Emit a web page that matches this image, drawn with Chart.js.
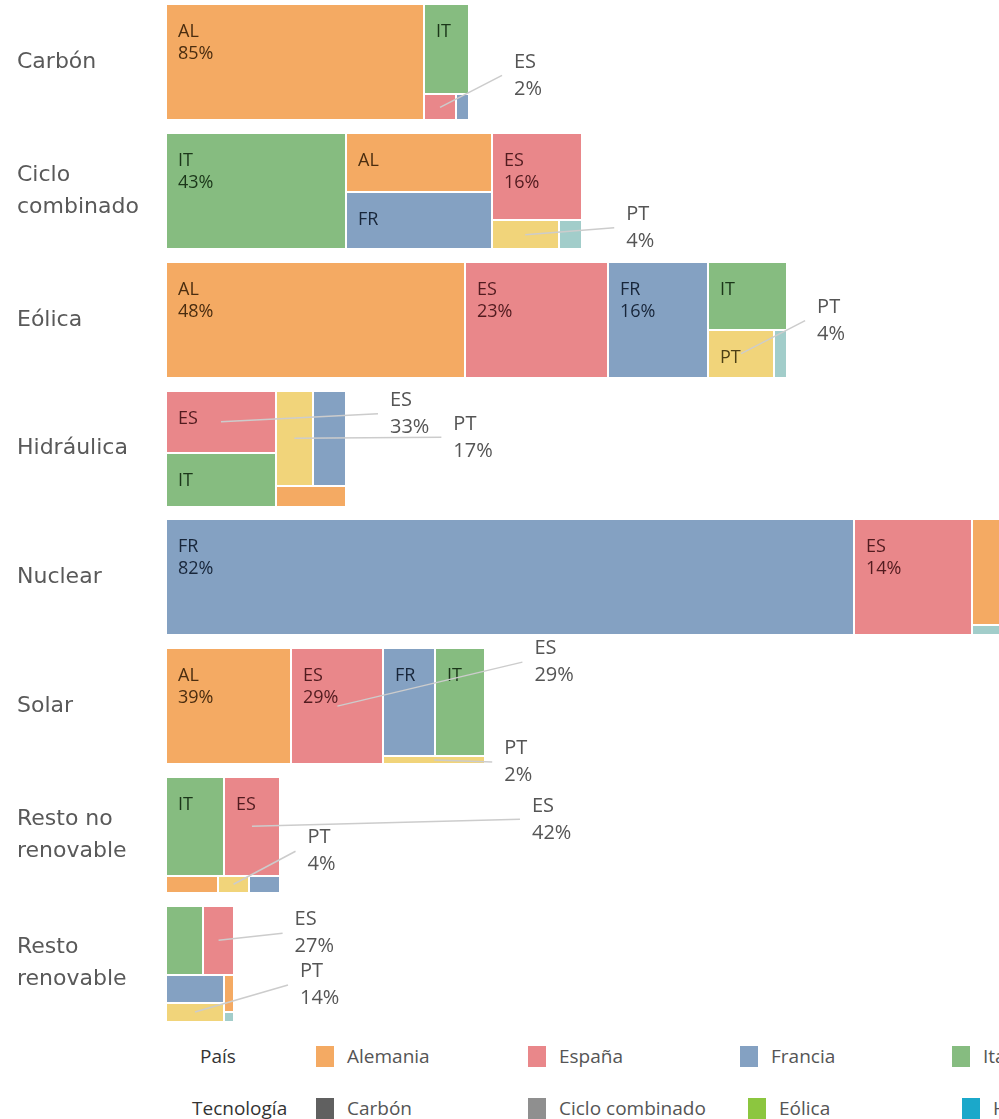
<!DOCTYPE html>
<html lang="es">
<head>
<meta charset="utf-8">
<title>Generación por tecnología y país</title>
<script src="https://cdn.jsdelivr.net/npm/chart.js@4.4.1/dist/chart.umd.min.js"></script>
<style>
  html, body { margin: 0; padding: 0; background: #fff; }
  body { position: relative; width: 999px; height: 1119px; overflow: hidden; font-family: "Open Sans", sans-serif; }
  #chart { position: absolute; left: 0; top: -2px; }
  .legend-title { position: absolute; font-size: 19px; color: #333; white-space: nowrap; transform: translateY(-50%); }
  .legend-item { position: absolute; display: flex; align-items: center; font-size: 19px; color: #555; white-space: nowrap; transform: translateY(-50%); }
  .legend-item i { display: inline-block; width: 18px; height: 21px; margin-right: 13px; }
</style>
</head>
<body>
<canvas id="chart" width="999" height="1032"></canvas>
<div id="legend"></div>
<script>
// Technologies (one treemap row each) and their axis labels
const technologies = ['Carbón', 'Ciclo combinado', 'Eólica', 'Hidráulica', 'Nuclear', 'Solar', 'Resto no renovable', 'Resto renovable'];
const techLabels = ['Carbón', ['Ciclo', 'combinado'], 'Eólica', 'Hidráulica', 'Nuclear', 'Solar', ['Resto no', 'renovable'], ['Resto', 'renovable']];

const countries = ['Alemania', 'España', 'Francia', 'Italia', 'Portugal', 'Reino Unido'];
const countryCodes = ['AL', 'ES', 'FR', 'IT', 'PT', 'RU'];

// Generation (TWh) per country, same order as technologies
const alemania   = [129.2, 37.2, 149.7,  6.2,  14.9, 62.7,  3.8,  1.63];
const espana     = [  3.5, 33.9,  71.4, 29.5,  59.1, 46.0, 23.9,  9.18];
const francia    = [  1.5, 35.8,  50.0, 13.7, 344.0, 23.8,  2.25, 6.97];
const italia     = [ 17.3, 89.9,  23.0, 25.5,   0,   23.5, 24.7, 11.05];
const portugal   = [  0,    8.3,  13.7, 15.1,   0,    3.5,  2.35, 4.76];
const reinoUnido = [  0,    2.9,   2.7,  0,     1.5,  0,    0,    0.41];

const generation = [alemania, espana, francia, italia, portugal, reinoUnido];
const totals = technologies.map((t, i) => generation.reduce((s, serie) => s + serie[i], 0));

const countryColours = ['#F4AA63', '#E9878A', '#84A1C2', '#86BC80', '#F1D47A', '#A2CDCA'];
const countryInk = ['#4a2d10', '#511b1f', '#18263a', '#1b3619', '#4d3f15', '#233f3d'];
const techColours = ['#606060', '#8f8f8f', '#8CC63F', '#1BA8CA', '#9467bd', '#f2c12e', '#b07aa1', '#7f7f7f'];

// Callouts for Spain and Portugal: technology, country, text offset from the cell centre
const callouts = [
  ['Carbón', 'España', 74, -32],
  ['Ciclo combinado', 'Portugal', 101, -7],
  ['Eólica', 'Portugal', 76, -33],
  ['Hidráulica', 'España', 169, -8],
  ['Hidráulica', 'Portugal', 159, -1],
  ['Solar', 'España', 197, -44],
  ['Solar', 'Portugal', 70, 2],
  ['Resto no renovable', 'España', 280, -7],
  ['Resto no renovable', 'Portugal', 74, -33],
  ['Resto renovable', 'España', 76, -7],
  ['Resto renovable', 'Portugal', 105, -27]
];

// squarified layout, tolerating cells up to this aspect ratio
const ratioTolerance = 3.2;

function worst(row, side) {
  const sum = row.reduce((s, d) => s + d.a, 0);
  const t = sum / side;
  let w = 0;
  row.forEach(d => {
    const len = d.a / t;
    w = Math.max(w, t / len, len / t);
  });
  return Math.max(ratioTolerance, w);
}

function squarify(items, box) {
  const out = [];
  let r = Object.assign({}, box);
  let rest = items.slice();
  while (rest.length) {
    const side = Math.min(r.w, r.h);
    const row = [rest[0]];
    let i = 1;
    while (i < rest.length && worst(row.concat(rest[i]), side) <= worst(row, side)) {
      row.push(rest[i]);
      i++;
    }
    rest = rest.slice(row.length);
    const sum = row.reduce((s, d) => s + d.a, 0);
    if (r.w >= r.h) {
      // strip down the left side
      const t = rest.length ? sum / r.h : r.w;
      let yy = r.y;
      row.forEach((d, k) => {
        const len = k === row.length - 1 ? r.y + r.h - yy : d.a / t;
        out.push(Object.assign({}, d, { x: r.x, y: yy, w: t, h: len }));
        yy += len;
      });
      r = { x: r.x + t, y: r.y, w: r.w - t, h: r.h };
    } else {
      // strip along the top
      const t = rest.length ? sum / r.w : r.h;
      let xx = r.x;
      row.forEach((d, k) => {
        const len = k === row.length - 1 ? r.x + r.w - xx : d.a / t;
        out.push(Object.assign({}, d, { x: xx, y: r.y, w: len, h: t }));
        xx += len;
      });
      r = { x: r.x, y: r.y + t, w: r.w, h: r.h - t };
    }
  }
  return out;
}

const treemapCells = {
  id: 'treemapCells',
  afterDatasetsDraw(chart) {
    const ctx = chart.ctx;
    const meta = chart.getDatasetMeta(0);
    const centres = {};
    ctx.save();
    meta.data.forEach((bar, t) => {
      const p = bar.getProps(['x', 'y', 'base', 'height'], true);
      const box = { x: p.base, y: p.y - p.height / 2, w: p.x - p.base, h: p.height };
      const area = box.w * box.h;
      const items = generation
        .map((serie, c) => ({ c: c, v: serie[t], a: serie[t] / totals[t] * area }))
        .filter(d => d.v > 0)
        .sort((a, b) => b.v - a.v);
      squarify(items, box).forEach(cell => {
        const x0 = Math.round(cell.x), x1 = Math.round(cell.x + cell.w);
        const y0 = Math.round(cell.y), y1 = Math.round(cell.y + cell.h);
        const w = x1 - x0, h = y1 - y0;
        ctx.fillStyle = countryColours[cell.c];
        ctx.fillRect(x0 + 1, y0 + 1, w - 2, h - 2);
        centres[technologies[t] + '|' + countries[cell.c]] = { x: cell.x + cell.w / 2, y: cell.y + cell.h / 2, v: cell.v, t: t, c: cell.c };

        ctx.font = '18px "Open Sans"';
        ctx.textBaseline = 'alphabetic';
        const code = countryCodes[cell.c];
        const pct = Math.round(cell.v / totals[t] * 100) + '%';
        if (w >= ctx.measureText(code).width + 28 && h >= 44) {
          ctx.fillStyle = countryInk[cell.c];
          ctx.fillText(code, x0 + 12, y0 + 33);
          if (w >= ctx.measureText(pct).width + 26 && h >= 75) {
            ctx.fillText(pct, x0 + 12, y0 + 55);
          }
        }
      });
    });

    // leader lines, then callout texts
    const placed = callouts.map(([tech, country, dx, dy]) => {
      const cen = centres[tech + '|' + country];
      return { cen: cen, x: cen.x + dx, y: cen.y + dy };
    });
    ctx.strokeStyle = '#cccccc';
    ctx.lineWidth = 1.5;
    placed.forEach(p => {
      ctx.beginPath();
      ctx.moveTo(p.cen.x, p.cen.y);
      ctx.lineTo(p.x - 12, p.y);
      ctx.stroke();
    });
    ctx.font = '20px "Open Sans"';
    ctx.textBaseline = 'middle';
    ctx.fillStyle = '#555';
    placed.forEach(p => {
      const pct = Math.round(p.cen.v / totals[p.cen.t] * 100) + '%';
      ctx.fillText(countryCodes[p.cen.c], p.x, p.y - 13.5);
      ctx.fillText(pct, p.x, p.y + 13.5);
    });
    ctx.restore();
  }
};

new Chart(document.getElementById('chart'), {
  type: 'bar',
  data: {
    labels: techLabels,
    datasets: [{
      data: totals,
      backgroundColor: 'rgba(0,0,0,0)',
      categoryPercentage: 1,
      barPercentage: 0.9
    }]
  },
  options: {
    indexAxis: 'y',
    responsive: false,
    animation: false,
    events: [],
    layout: { padding: { left: 17, top: 0, right: 0, bottom: 2 } },
    plugins: { legend: { display: false }, tooltip: { enabled: false } },
    scales: {
      x: { type: 'linear', min: 0, max: 416.5, display: false },
      y: {
        grid: { display: false },
        border: { display: false },
        ticks: {
          crossAlign: 'far',
          color: '#595959',
          font: { family: 'DejaVu Sans', size: 22, lineHeight: 1.45 }
        },
        afterFit(scale) {
          scale.width = 149;
          scale.paddingTop = 0;
          scale.paddingBottom = 0;
        }
      }
    }
  },
  plugins: [treemapCells]
});

// legend rows under the chart
const legend = document.getElementById('legend');
function legendRow(title, titleLeft, names, colours, lefts, centreY) {
  const head = document.createElement('div');
  head.className = 'legend-title';
  head.textContent = title;
  head.style.left = titleLeft + 'px';
  head.style.top = centreY + 'px';
  legend.appendChild(head);
  names.forEach((name, i) => {
    const item = document.createElement('div');
    item.className = 'legend-item';
    item.style.left = lefts[i] + 'px';
    item.style.top = centreY + 'px';
    const sw = document.createElement('i');
    sw.style.background = colours[i];
    item.appendChild(sw);
    item.appendChild(document.createTextNode(name));
    legend.appendChild(item);
  });
}
legendRow('País', 200, countries, countryColours, [316, 528, 740, 952, 1164, 1376], 1056);
legendRow('Tecnología', 192, technologies, techColours, [316, 528, 748, 962, 1174, 1386, 1598, 1810], 1108);
</script>
</body>
</html>
